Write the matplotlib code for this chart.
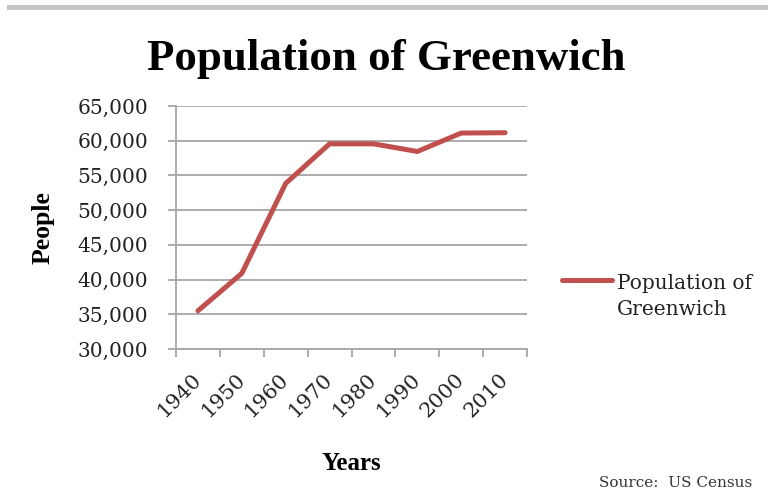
import matplotlib.pyplot as plt
from matplotlib.patches import Rectangle
from matplotlib.ticker import FuncFormatter, FixedLocator
from matplotlib.transforms import ScaledTranslation

years = ["1940", "1950", "1960", "1970", "1980", "1990", "2000", "2010"]
population = [35500, 40900, 53850, 59550, 59550, 58450, 61100, 61150]
y_ticks = list(range(30000, 65001, 5000))

red = "#c0504d"
grid_gray = "#a6a6a6"
serif = "Liberation Serif"
body = "DejaVu Serif"

fig = plt.figure(figsize=(7.68, 4.97), dpi=100)
ax = fig.add_axes([176 / 768, 1 - 349 / 497, 351 / 768, 243 / 497])

x = list(range(len(years)))
line, = ax.plot(x, population, color=red, lw=3.6, solid_capstyle="round",
                solid_joinstyle="miter", label="Population of\nGreenwich", zorder=3)

ax.set_xlim(-0.5, len(years) - 0.5)
ax.set_ylim(30000, 65000)
ax.set_yticks(y_ticks)
ax.yaxis.set_major_formatter(FuncFormatter(lambda v, p: format(int(v), ",")))
ax.grid(axis="y", color=grid_gray, lw=1.3)
ax.set_axisbelow(True)

# category labels at the centres, tick marks on the boundaries
ax.set_xticks(x)
ax.set_xticklabels(years, rotation=45, ha="right", va="center",
                   rotation_mode="anchor", family=body, fontsize=15, color="#222222")
shift = ScaledTranslation(5 / 100, 0, fig.dpi_scale_trans)
for lbl in ax.get_xticklabels():
    lbl.set_transform(lbl.get_transform() + shift)
ax.xaxis.set_minor_locator(FixedLocator([i - 0.5 for i in range(len(years) + 1)]))
ax.tick_params(axis="x", which="major", length=0, pad=20)
ax.tick_params(axis="x", which="minor", length=6, width=1.3, color=grid_gray)
ax.tick_params(axis="y", length=6, width=1.3, color=grid_gray, pad=14,
               labelsize=14.5, labelcolor="#222222")
for lbl in ax.get_yticklabels():
    lbl.set_family(body)

for side in ["top", "right"]:
    ax.spines[side].set_visible(False)
for side in ["left", "bottom"]:
    ax.spines[side].set_color(grid_gray)
    ax.spines[side].set_linewidth(1.3)

leg = ax.legend(loc="center left", bbox_to_anchor=(1.0485, 0.216), frameon=False,
                prop={"family": body, "size": 14.5}, handlelength=2.5,
                handletextpad=0.2, labelcolor="#222222")
leg.get_texts()[0].set_linespacing(1.47)
# keep the legend line level with the first row of the label
handle = leg.legend_handles[0]
handle.set_ydata([y + 12.5 for y in handle.get_ydata()])

fig.add_artist(Rectangle((7 / 768, 1 - 9.5 / 497), 761 / 768, 4 / 497,
                         transform=fig.transFigure, color="#c4c4c4", lw=0))
fig.text(386 / 768, 1 - 70 / 497, "Population of Greenwich", ha="center",
         va="baseline", family=serif, weight="bold", fontsize=32.3)
fig.text(351 / 768, 1 - 470 / 497, "Years", ha="center", va="baseline",
         family=serif, weight="bold", fontsize=18)
fig.text(43 / 768, 1 - 228 / 497, "People", ha="center", va="center",
         rotation=90, family=serif, weight="bold", fontsize=18.5)
fig.text(752 / 768, 1 - 487 / 497, "Source:  US Census", ha="right",
         va="baseline", family=body, fontsize=11, color="#333333")

fig.savefig("out.png", dpi=100)
